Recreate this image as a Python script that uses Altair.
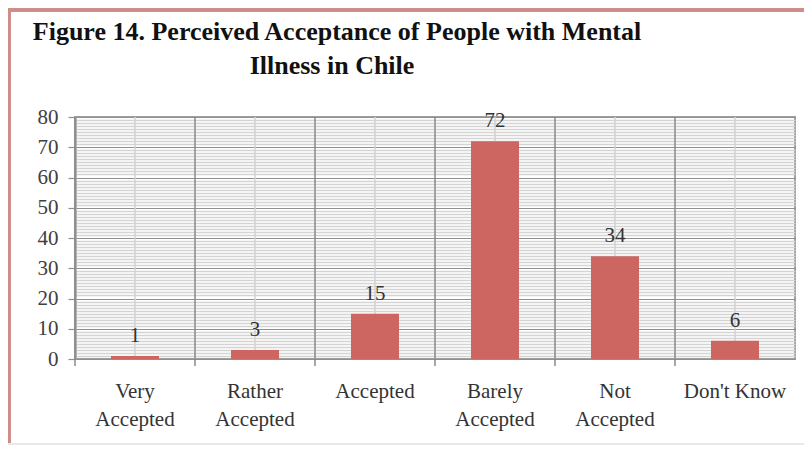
import altair as alt
import pandas as pd

categories = ["Very\nAccepted", "Rather\nAccepted", "Accepted", "Barely\nAccepted", "Not\nAccepted", "Don't Know"]
values = [1, 3, 15, 72, 34, 6]
major_ticks = [0, 10, 20, 30, 40, 50, 60, 70, 80]
minor_ticks = [v for v in range(0, 81) if v % 10 != 0]
title_lines = ["Figure 14. Perceived Acceptance of People with Mental", "Illness in Chile"]

df = pd.DataFrame({"cat": categories, "value": values})

W, H = 720, 242
SERIF = "Liberation Serif"
BAR = "#cd6560"

x_axis = alt.Axis(title=None, labelAngle=0, ticks=False, domain=False, grid=False,
                  labelExpr="split(datum.label, '\\n')", labelFont=SERIF, labelFontSize=21,
                  labelColor="#333333", labelPadding=21, labelLineHeight=28, labelLimit=200)
y_scale = alt.Scale(domain=[0, 80], nice=False)

base = alt.Chart(df)

boundaries = base.mark_rule(color="#8a8a8a", strokeWidth=1.5).encode(
    x=alt.X("cat:N", sort=categories, axis=x_axis, bandPosition=0),
    y=alt.value(0), y2=alt.value(H + 7))

centers = base.mark_rule(color="#d2d2d2", strokeWidth=1.5).encode(
    x=alt.X("cat:N", sort=categories, axis=x_axis),
    y=alt.value(0), y2=alt.value(H))

bars = base.mark_bar(color=BAR, size=48).encode(
    x=alt.X("cat:N", sort=categories, axis=x_axis),
    y=alt.Y("value:Q", scale=y_scale,
            axis=alt.Axis(title=None, values=major_ticks, grid=True, gridColor="#8f8f8f",
                          gridWidth=1.2, domain=True, domainColor="#a0a0a0", domainWidth=2.5,
                          tickColor="#8f8f8f", tickSize=7, tickWidth=1.2, labelFont=SERIF,
                          labelFontSize=21, labelColor="#404040", labelPadding=10)))

labels = base.mark_text(baseline="bottom", dy=-10, font=SERIF, fontSize=21, color="#333333").encode(
    x=alt.X("cat:N", sort=categories, axis=x_axis),
    y=alt.Y("value:Q", scale=y_scale,
            axis=alt.Axis(title=None, orient="right", values=minor_ticks, grid=True,
                          gridColor="#d4d4d4", gridWidth=1.4, domain=False, ticks=False,
                          labels=False)),
    text="value:Q")

tdf = pd.DataFrame({"t": title_lines, "row": [0, 1]})
title1 = alt.Chart(tdf).transform_filter("datum.row == 0").mark_text(
    font=SERIF, fontSize=26, fontWeight="bold", color="#111111", baseline="middle", align="center"
).encode(text="t:N", x=alt.value(262), y=alt.value(-85))
title2 = alt.Chart(tdf).transform_filter("datum.row == 1").mark_text(
    font=SERIF, fontSize=26, fontWeight="bold", color="#111111", baseline="middle", align="center"
).encode(text="t:N", x=alt.value(257), y=alt.value(-51))

border_top = base.mark_rule(color="#cf8d8a", strokeWidth=3).encode(
    x=alt.value(-67), x2=alt.value(W + 9), y=alt.value(-107))
border_left = base.mark_rule(color="#cf8d8a", strokeWidth=3).encode(
    x=alt.value(-66), y=alt.value(-108), y2=alt.value(H + 86))
border_bottom = base.mark_rule(color="#e8e8e8", strokeWidth=1).encode(
    x=alt.value(-67), x2=alt.value(W + 9), y=alt.value(H + 85))

chart = alt.layer(centers, boundaries, bars, labels, title1, title2,
                  border_top, border_left, border_bottom).resolve_axis(
    y="independent").properties(
    width=W, height=H,
    autosize=alt.AutoSizeParams(type="none"),
    padding={"left": 67, "top": 109, "right": 9, "bottom": 86},
    background="white",
).configure_view(stroke="#a0a0a0", strokeWidth=2)

chart.save("out.html", embed_options={"renderer": "svg", "actions": False})
